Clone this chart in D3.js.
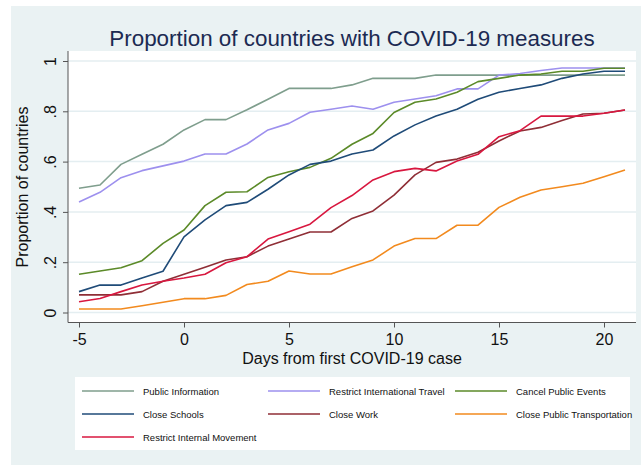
<!DOCTYPE html>
<html>
<head>
<meta charset="utf-8">
<script src="https://cdn.jsdelivr.net/npm/d3@7"></script>
<style>
  html, body { margin: 0; padding: 0; background: #ffffff; }
  svg { display: block; font-family: "Liberation Sans", Arial, sans-serif; }
</style>
</head>
<body>
<svg id="chart" width="641" height="470"></svg>
<script>
// ---- data ----
const days = d3.range(-5, 22); // -5 .. 21
const seriesNames = [
  "Public Information", "Restrict International Travel", "Cancel Public Events",
  "Close Schools", "Close Work", "Close Public Transportation",
  "Restrict Internal Movement"
];
const seriesColors = ["#7f9e8d", "#9d90ee", "#5b8a28", "#1f4b78", "#8f2e36", "#f28a1e", "#d8173f"];

const publicInformation = [0.494,0.507,0.589,0.629,0.669,0.726,0.767,0.767,0.806,0.848,0.891,0.891,0.891,0.905,0.931,0.931,0.931,0.944,0.944,0.944,0.944,0.944,0.944,0.944,0.944,0.944,0.944];
const restrictIntlTravel = [0.439,0.478,0.536,0.564,0.583,0.602,0.630,0.630,0.670,0.726,0.752,0.796,0.808,0.821,0.808,0.836,0.849,0.862,0.889,0.889,0.944,0.950,0.962,0.972,0.972,0.972,0.972];
const cancelPublicEvents = [0.152,0.165,0.178,0.206,0.275,0.328,0.425,0.478,0.480,0.537,0.560,0.577,0.613,0.669,0.712,0.795,0.836,0.849,0.876,0.918,0.931,0.944,0.948,0.959,0.959,0.971,0.971];
const closeSchools = [0.083,0.109,0.109,0.137,0.164,0.301,0.368,0.425,0.438,0.490,0.547,0.589,0.602,0.630,0.646,0.702,0.746,0.781,0.808,0.848,0.876,0.891,0.905,0.931,0.948,0.959,0.959];
const closeWork = [0.070,0.070,0.070,0.083,0.124,0.152,0.180,0.209,0.222,0.264,0.292,0.320,0.320,0.374,0.404,0.467,0.547,0.597,0.610,0.637,0.682,0.722,0.736,0.763,0.789,0.792,0.805];
const closePublicTransport = [0.014,0.014,0.014,0.027,0.041,0.055,0.055,0.068,0.111,0.124,0.165,0.153,0.153,0.182,0.209,0.264,0.294,0.294,0.347,0.347,0.418,0.458,0.487,0.500,0.514,0.540,0.567];
const restrictInternalMovement = [0.043,0.056,0.083,0.109,0.124,0.137,0.152,0.198,0.222,0.292,0.321,0.351,0.417,0.465,0.527,0.560,0.573,0.563,0.602,0.629,0.699,0.723,0.781,0.781,0.781,0.792,0.805];

const seriesValues = [publicInformation, restrictIntlTravel, cancelPublicEvents, closeSchools, closeWork, closePublicTransport, restrictInternalMovement];

const xTicks = [-5, 0, 5, 10, 15, 20];
const xTickLabels = ["-5", "0", "5", "10", "15", "20"];
const yTicks = [0, 0.2, 0.4, 0.6, 0.8, 1];
const yTickLabels = ["0", ".2", ".4", ".6", ".8", "1"];

const titleText = "Proportion of countries with COVID-19 measures";
const xTitle = "Days from first COVID-19 case";
const yTitle = "Proportion of countries";

// ---- layout ----
const svg = d3.select("#chart");
const plot = { left: 68, right: 636, top: 51, bottom: 322.5 };

const x = d3.scaleLinear().domain([-5, 20]).range([79, 604]);
const y = d3.scaleLinear().domain([0, 1]).range([312.5, 61]);

// outer background
svg.append("rect").attr("x", 11).attr("y", 6).attr("width", 630).attr("height", 459).attr("fill", "#eaf2f3");
// plot region
svg.append("rect").attr("x", plot.left).attr("y", plot.top)
  .attr("width", plot.right - plot.left).attr("height", plot.bottom - plot.top).attr("fill", "#ffffff");

// gridlines
svg.append("g").selectAll("line").data(yTicks).join("line")
  .attr("x1", plot.left).attr("x2", plot.right)
  .attr("y1", d => y(d)).attr("y2", d => y(d))
  .attr("stroke", "#e4eef1").attr("stroke-width", 1.5);

// title
svg.append("text").attr("x", 352).attr("y", 46).attr("text-anchor", "middle")
  .attr("font-size", 22.4).attr("fill", "#1c2a52").text(titleText);

// y axis
const yAxis = d3.axisLeft(y).tickValues(yTicks).tickSize(5).tickPadding(4)
  .tickFormat((d, i) => yTickLabels[i]);
const gy = svg.append("g").attr("transform", `translate(${plot.left},0)`).call(yAxis);
gy.select(".domain").attr("d", `M0,${plot.top}V${plot.bottom}`).attr("stroke", "#555");
gy.selectAll(".tick line").attr("stroke", "#555");
gy.selectAll(".tick text")
  .attr("font-size", 16).attr("fill", "#111")
  .attr("x", null).attr("dy", null)
  .attr("text-anchor", "middle")
  .attr("transform", "translate(-12,0) rotate(-90)");

// x axis
const xAxis = d3.axisBottom(x).tickValues(xTicks).tickSize(5).tickPadding(6)
  .tickFormat((d, i) => xTickLabels[i]);
const gx = svg.append("g").attr("transform", `translate(0,${plot.bottom})`).call(xAxis);
gx.select(".domain").attr("d", `M${plot.left},0H${plot.right}`).attr("stroke", "#555");
gx.selectAll(".tick line").attr("stroke", "#555");
gx.selectAll(".tick text").attr("font-size", 16).attr("fill", "#111");

// axis titles
svg.append("text").attr("x", 352).attr("y", 364).attr("text-anchor", "middle")
  .attr("font-size", 16).attr("fill", "#111").text(xTitle);
svg.append("text").attr("transform", `translate(28,187) rotate(-90)`).attr("text-anchor", "middle")
  .attr("font-size", 16).attr("fill", "#111").text(yTitle);

// lines
const line = d3.line().x((d, i) => x(days[i])).y(d => y(d));
svg.append("g").selectAll("path").data(seriesValues).join("path")
  .attr("d", d => line(d))
  .attr("fill", "none")
  .attr("stroke", (d, i) => seriesColors[i])
  .attr("stroke-width", 1.6)
  .attr("stroke-linejoin", "round");

// legend
svg.append("rect").attr("x", 75).attr("y", 377).attr("width", 555).attr("height", 73).attr("fill", "#ffffff");
const colLine = [82, 268, 455];
const rowY = [391, 414, 437];
const lg = svg.append("g").selectAll("g").data(seriesNames).join("g")
  .attr("transform", (d, i) => `translate(${colLine[i % 3]},${rowY[Math.floor(i / 3)]})`);
lg.append("line").attr("x1", 0).attr("x2", 52).attr("y1", 0).attr("y2", 0)
  .attr("stroke", (d, i) => seriesColors[i]).attr("stroke-width", 1.6);
lg.append("text").attr("x", 61).attr("y", 3.5).attr("font-size", 9.5).attr("fill", "#111").text(d => d);
</script>
</body>
</html>
